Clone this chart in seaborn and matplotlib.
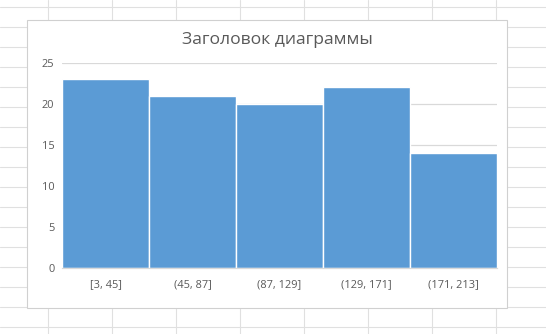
import matplotlib
matplotlib.use("Agg")
import matplotlib.pyplot as plt
import seaborn as sns
import pandas as pd
from matplotlib.lines import Line2D
from matplotlib.patches import Rectangle

categories = ["[3, 45]", "(45, 87]", "(87, 129]", "(129, 171]", "(171, 213]"]
counts = [23, 21, 20, 22, 14]
title = "Заголовок диаграммы"
yticks = [0, 5, 10, 15, 20, 25]

sns.set_theme(style="white")
plt.rcParams['font.family'] = ['Open Sans', 'DejaVu Sans']

W, H = 546, 334
fig = plt.figure(figsize=(W / 100, H / 100), dpi=100)
fig.patch.set_facecolor("white")

def fx(px):
    return px / W

def fy(py):
    return 1 - py / H

# spreadsheet background grid
for x in range(48, W, 64):
    fig.add_artist(Line2D([fx(x), fx(x)], [0, 1], color="#e0e0e0", lw=0.8, zorder=0))
for y in range(7, H, 20):
    fig.add_artist(Line2D([0, 1], [fy(y), fy(y)], color="#e0e0e0", lw=0.8, zorder=0))

# chart box
fig.add_artist(Rectangle((fx(26.5), fy(308)), fx(506.5) - fx(26.5), fy(20) - fy(308),
                         facecolor="white", edgecolor="#d0d0d0", lw=0.8, zorder=1))

ax = fig.add_axes([fx(62), fy(268), fx(497) - fx(62), fy(62.7) - fy(268)], zorder=2)
ax.set_facecolor("none")

df = pd.DataFrame({"bin": categories, "count": counts})
sns.barplot(data=df, x="bin", y="count", color="#5B9BD5", saturation=1, width=1.0,
            edgecolor="white", linewidth=1.0, ax=ax)

ax.set_xlim(-0.5, len(categories) - 0.5)
ax.set_ylim(0, 25)
ax.set_yticks(yticks)
ax.yaxis.grid(True, color="#d9d9d9", lw=0.9)
ax.set_axisbelow(True)
for s in ["top", "right", "left"]:
    ax.spines[s].set_visible(False)
ax.spines["bottom"].set_color("#d9d9d9")
ax.spines["bottom"].set_linewidth(0.9)
ax.tick_params(axis="both", length=0, colors="#595959", labelsize=7.9)
ax.tick_params(axis="x", pad=8)
ax.tick_params(axis="y", pad=5.5)
ax.set_xlabel("")
ax.set_ylabel("")

fig.text(fx(277.5), fy(40), title, ha="center", va="center", fontsize=12.6, color="#595959")

fig.savefig("out.png", dpi=100)
